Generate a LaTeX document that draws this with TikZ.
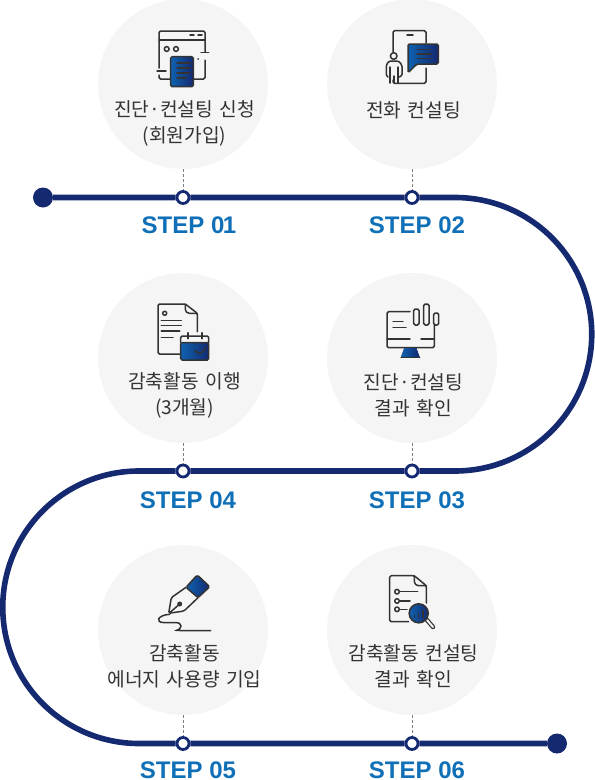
\documentclass[tikz,border=0pt]{standalone}
\usepackage{fontspec}
\usepackage{xcolor}
\newfontfamily\krfont{Noto Sans CJK KR}
\newfontfamily\stepfont{Liberation Sans}
\definecolor{navy}{HTML}{14296F}
\definecolor{stepblue}{HTML}{0F6FB7}
\definecolor{softgray}{HTML}{F5F5F5}
\definecolor{inkgray}{HTML}{333333}
\definecolor{gradleft}{HTML}{0E62B0}
\definecolor{gradright}{HTML}{14296F}

\begin{document}
\begin{tikzpicture}[x=1pt,y=-1pt,node distance=229pt]
        \tikzstyle{bubble} = [circle, minimum size=170pt, inner sep=0pt, fill=softgray]
        \tikzstyle{caption} = [text width=170pt, align=center, text=inkgray, font=\krfont\fontsize{19.2}{26}\selectfont]
        \tikzstyle{stop} = [circle, minimum size=12pt, inner sep=0pt, line width=2.8pt, draw=navy, fill=white]
        \tikzstyle{stepname} = [text=stepblue, font=\stepfont\bfseries\fontsize{24}{26}\selectfont]
        \tikzstyle{endpoint} = [circle, minimum size=20pt, inner sep=0pt, fill=navy]
        \tikzstyle{track} = [line width=5.6pt, draw=navy]
        \tikzstyle{leader} = [densely dashed, line width=0.5pt, draw=gray]
        \tikzstyle{iconline} = [line width=1.5pt, draw=inkgray, line cap=round, line join=round, rounded corners=1.5pt]
        \tikzstyle{iconblue} = [line width=1.5pt, draw=inkgray, left color=gradleft, right color=gradright, rounded corners=1.5pt]
        \useasboundingbox (0,0) rectangle (595,780);

        \node (bubble1) [bubble] at (183,84) {};
        \node (bubble2) [bubble, right of=bubble1] {};
        \node (bubble4) [bubble, below of=bubble1, yshift=-45pt] {};
        \node (bubble3) [bubble, right of=bubble4] {};
        \node (bubble5) [bubble, below of=bubble4, yshift=-43pt] {};
        \node (bubble6) [bubble, right of=bubble5] {};

        \node (text1) [caption] at (184.5,123) {진단·컨설팅 신청\\(회원가입)};
        \node (text2) [caption] at (413.5,110) {전화 컨설팅};
        \node (text3) [caption] at (413.5,395) {진단·컨설팅\\결과 확인};
        \node (text4) [caption] at (184.5,395) {감축활동 이행\\(3개월)};
        \node (text5) [caption] at (184.5,666) {감축활동\\에너지 사용량 기입};
        \node (text6) [caption] at (413.5,666) {감축활동 컨설팅\\결과 확인};

        \node (dot1) [stop] at (183,197.5) {};
        \node (dot2) [stop, right of=dot1] {};
        \node (dot4) [stop] at (183,471) {};
        \node (dot3) [stop, right of=dot4] {};
        \node (dot5) [stop] at (183,743.5) {};
        \node (dot6) [stop, right of=dot5] {};
        \node (start) [endpoint] at (43,197.5) {};
        \node (finish) [endpoint] at (557,743.5) {};
        \coordinate (bendA) at (455,197.5);
        \coordinate (bendB) at (139,471);

        \node (step1) [stepname] at (187.5,225.5) {STEP 0\kern-1.5pt1\kern-3pt};
        \node (step2) [stepname] at (417,225.5) {STEP 02};
        \node (step3) [stepname] at (417,500) {STEP 03};
        \node (step4) [stepname] at (188,500) {STEP 04};
        \node (step5) [stepname] at (188,770) {STEP 05};
        \node (step6) [stepname] at (417,770) {STEP 06};

        \draw [track] (start) -- (dot1) -- (dot2) -- (bendA) arc[start angle=90, end angle=-90, radius=136.75pt] -- (dot3) -- (dot4) -- (bendB) arc[start angle=90, end angle=270, radius=136.25pt] -- (dot5) -- (dot6) -- (finish);
        \draw [leader] (bubble1) -- (dot1);
        \draw [leader] (bubble2) -- (dot2);
        \draw [leader] (bubble3) -- (dot3);
        \draw [leader] (bubble4) -- (dot4);
        \draw [leader] (bubble5) -- (dot5);
        \draw [leader] (bubble6) -- (dot6);

        \draw [iconline] (159,68) -- (159,31) -- (205,31) -- (205,52);
        \draw [iconline] (159,40) -- (205,40);
        \draw [iconline] (190,35) -- (194,35) (198,35) -- (202,35);
        \draw [iconline] (166.7,49) circle (2.4) (176,49) circle (2.4);
        \draw [iconline] (157,71) -- (166,71) (201,52.7) -- (208.7,52.7) (198,59) -- (198.3,59);
        \draw [iconline] (159,75) -- (159,79) -- (171,79) (205,60) -- (205,79) -- (193,79);
        \draw [iconblue] (170.7,56.7) rectangle (193.3,86.7);
        \draw [iconline] (177,63) -- (190,63) (177,68) -- (190,68) (177,73) -- (190,73) (177,78) -- (186,78);

        \draw [iconline] (393,52) -- (393,30.7) -- (426,30.7) -- (426,43);
        \draw [iconline] (426,68) -- (426,83.3) -- (393,83.3) -- (393,80);
        \draw [iconline] (407,35) -- (413,35);
        \draw [iconblue] (408,44) -- (438.3,44) -- (438.3,64) -- (417,64) -- (408,72.7) -- cycle;
        \draw [iconline] (417,49.3) -- (431,49.3) (417,54) -- (431,54) (417,58.7) -- (431,58.7);
        \draw [iconline] (393.7,56) circle (3.3);
        \draw [iconline] (388,77) -- (386.3,76) -- (386.3,65) -- (389,61) -- (398.5,61) -- (402,65) -- (402,76) -- (399,77);
        \draw [iconline] (390,67) -- (390,83) (398,67) -- (398,83) (394,76) -- (394,83);

        \draw [iconline] (179.7,354) -- (158,354) -- (158,304) -- (185.3,304) -- (197.3,313.3) -- (197.3,331.7);
        \draw [iconline] (185.3,304) -- (185.3,311) -- (188,313.3) -- (197.3,313.3);
        \draw [iconline] (164.7,313.3) circle (2);
        \draw [iconline] (161.3,320.7) -- (181.3,320.7) (161.3,325.7) -- (181.3,325.7) (161.3,331) -- (179.7,331) (161.3,337.3) -- (173,337.3);
        \draw [iconline] (180.7,342.7) -- (180.7,336) -- (208.7,336) -- (208.7,342.7);
        \draw [iconblue] (180.7,342.7) rectangle (208.7,360);
        \draw [iconline] (188,332.7) -- (188,338.7) (202,332.7) -- (202,338.7);
        \draw [iconline] (194.7,350.7) -- (200,354) -- (205.3,348.3);

        \draw [iconline] (410,311.7) -- (387,311.7) -- (387,347.7) -- (434.3,347.7) -- (434.3,325);
        \draw [iconline] (387,339) -- (410,339) (421,339) -- (434.3,339);
        \draw [iconline] (393,321.7) -- (403,321.7) (393,327.7) -- (406,327.7);
        \draw [iconline] (413.7,309) rectangle (419,325) (423.7,304) rectangle (429,325) (433.7,313) rectangle (438.7,325);
        \fill [left color=gradleft, right color=gradright] (404.3,348) -- (416.3,348) -- (419.7,357.3) -- (401,357.3) -- cycle;
        \draw [iconline] (401,357.3) -- (419.7,357.3);

        \draw [iconblue] (197.3,575) -- (209.7,586.7) -- (198,597.7) -- (186,587.3) -- cycle;
        \draw [iconline] (186,587.3) -- (171.3,597.7) -- (168.7,613.3) -- (184,611) -- (198,597.7);
        \draw [iconline] (169.7,612.7) -- (179.7,604);
        \fill [inkgray] (179.7,604) circle (2.5);
        \draw [line width=1.5pt, draw=inkgray, line cap=round] (169.7,614.3) .. controls (158,615) and (155,622) .. (163,622.5) .. controls (172,623) and (181,621) .. (181,626) .. controls (181,631) and (172,630) .. (180,630.5) -- (210.7,630.5);

        \draw [iconline] (408.7,621.7) -- (389.7,621.7) -- (389.7,575.7) -- (414.3,575.7) -- (426.3,585.7) -- (426.3,603);
        \draw [iconline] (414.3,575.7) -- (414.3,583) -- (417,585.7) -- (426.3,585.7);
        \draw [iconline] (397,591.7) circle (2.3) (397,601) circle (2.3) (397,609.3) circle (2.3);
        \draw [iconline] (400,591.7) -- (417.7,591.7) (400,601) -- (410,601) (400,609.3) -- (407,609.3);
        \draw [iconline, line width=4.4pt] (427,620) -- (433,627);
        \draw [line width=2pt, draw=softgray, line cap=round] (427,620) -- (433,627);
        \draw [iconblue, line width=1.6pt] (418.7,613.3) circle (9.5);
        \draw [line width=1.5pt, draw=inkgray] (414.5,618) -- (414.5,615) (418.7,618) -- (418.7,612) (423,618) -- (423,609.5);
\end{tikzpicture}
\end{document}
